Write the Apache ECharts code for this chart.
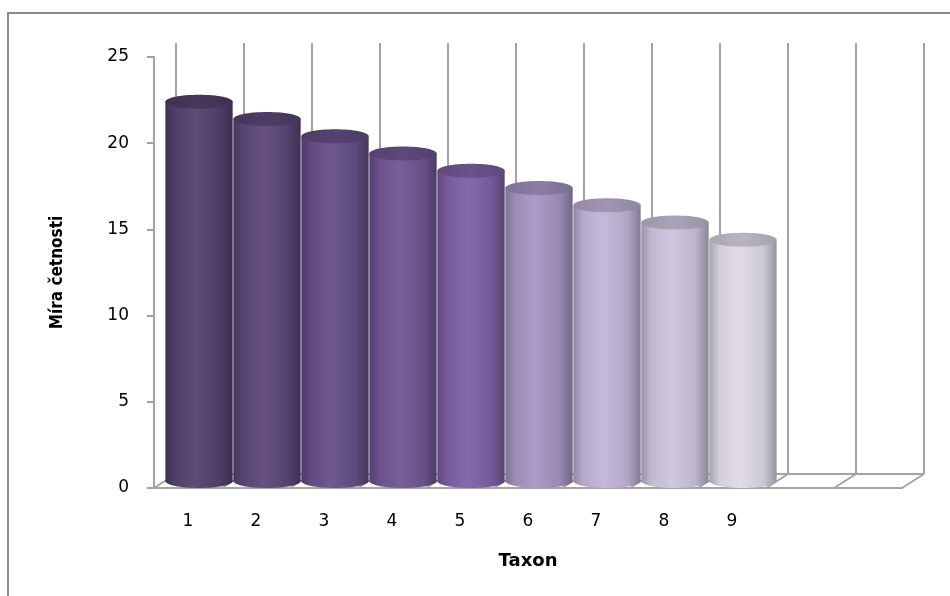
<!DOCTYPE html>
<html>
<head>
<meta charset="utf-8">
<script src="https://cdn.jsdelivr.net/npm/echarts@6/dist/echarts.min.js"></script>
<style>
  html, body { margin: 0; padding: 0; background: #fff; }
  #chart { width: 950px; height: 596px; }
</style>
</head>
<body>
<div id="chart"></div>
<script>
// data
var categories = ['1', '2', '3', '4', '5', '6', '7', '8', '9', '', ''];
var values = [22, 21, 20, 19, 18, 17, 16, 15, 14];
var yTicks = [0, 5, 10, 15, 20, 25];

// colours of the cylinders, left to right
var palette = ['#56426f', '#5e4879', '#675088', '#715795', '#7e62a6',
  '#a696c4', '#c1b5d8', '#cdc5de', '#dfd9e9'];

var DX = 22, DY = -14; // 3d depth offset
var RY = 7;            // ellipse radius of the cylinder caps
var lineCol = '#a3a3a3';

function shade(hex, f) {
  var n = parseInt(hex.slice(1), 16);
  var r = n >> 16, g = (n >> 8) & 255, b = n & 255;
  var t = f < 0 ? 0 : 255, p = Math.abs(f);
  r = Math.round(r + (t - r) * p);
  g = Math.round(g + (t - g) * p);
  b = Math.round(b + (t - b) * p);
  return 'rgb(' + r + ',' + g + ',' + b + ')';
}

var myChart = echarts.init(document.getElementById('chart'));

// back wall + floor lines
function renderWall(params, api) {
  var i = api.value(0);
  var c = api.coord([i, 0]);
  var top = api.coord([i, yTicks[yTicks.length - 1]]);
  var bw = api.size([1, 0])[0];
  var xl = c[0] - bw / 2, xr = c[0] + bw / 2;
  var st = { stroke: lineCol, lineWidth: 2 };
  var kids = [
    { type: 'line', shape: { x1: xl + DX, y1: c[1] + DY, x2: xl + DX, y2: top[1] + DY }, style: st },
    { type: 'line', shape: { x1: xl, y1: c[1], x2: xl + DX, y2: c[1] + DY }, style: st },
    { type: 'line', shape: { x1: xl + DX, y1: c[1] + DY, x2: xr + DX, y2: c[1] + DY }, style: st }
  ];
  if (i === categories.length - 1) {
    kids.push({ type: 'line', shape: { x1: xr + DX, y1: c[1] + DY, x2: xr + DX, y2: top[1] + DY }, style: st });
    kids.push({ type: 'line', shape: { x1: xr, y1: c[1], x2: xr + DX, y2: c[1] + DY }, style: st });
  }
  return { type: 'group', children: kids };
}

function renderCylinder(params, api) {
  var i = api.value(0);
  var v = api.value(1);
  var c = api.coord([i, v]);
  var base = api.coord([i, 0]);
  var bw = api.size([1, 0])[0];
  var w = bw * 0.99;
  var cx = c[0] + DX / 2;
  var yt = c[1] + DY / 2;
  var yb = base[1] + DY / 2;
  var col = palette[i];
  var body = new echarts.graphic.LinearGradient(0, 0, 1, 0, [
    { offset: 0, color: shade(col, -0.25) },
    { offset: 0.15, color: shade(col, -0.06) },
    { offset: 0.45, color: shade(col, 0.05) },
    { offset: 0.8, color: shade(col, -0.08) },
    { offset: 1, color: shade(col, -0.32) }
  ]);
  var cap = new echarts.graphic.LinearGradient(0, 0, 1, 0, [
    { offset: 0, color: shade(col, -0.24) },
    { offset: 0.5, color: shade(col, -0.17) },
    { offset: 1, color: shade(col, -0.26) }
  ]);
  return {
    type: 'group',
    children: [
      { type: 'ellipse', shape: { cx: cx, cy: yb, rx: w / 2, ry: RY }, style: { fill: body } },
      { type: 'rect', shape: { x: cx - w / 2, y: yt, width: w, height: yb - yt }, style: { fill: body } },
      { type: 'ellipse', shape: { cx: cx, cy: yt, rx: w / 2, ry: RY }, style: { fill: cap } }
    ]
  };
}

var option = {
  animation: false,
  graphic: [{
    type: 'rect',
    shape: { x: 8, y: 13, width: 980, height: 620 },
    style: { fill: 'none', stroke: '#8c8c8c', lineWidth: 2 },
    silent: true
  }],
  grid: { left: 154, right: 48, top: 57, bottom: 108 },
  xAxis: {
    type: 'category',
    data: categories,
    name: 'Taxon',
    nameLocation: 'middle',
    nameGap: 64,
    nameTextStyle: { fontFamily: 'DejaVu Sans', fontWeight: 'bold', fontSize: 18, color: '#000' },
    axisLine: { lineStyle: { color: lineCol, width: 2 } },
    axisTick: { show: false },
    axisLabel: { fontFamily: 'DejaVu Sans', fontSize: 17, color: '#000', margin: 25, interval: 0 },
    splitLine: { show: false }
  },
  yAxis: {
    type: 'value',
    min: 0,
    max: 25,
    interval: 5,
    name: 'Míra četnosti',
    nameLocation: 'middle',
    nameGap: 88,
    nameRotate: 90,
    nameTextStyle: {
      fontFamily: "'Liberation Sans Narrow', 'DejaVu Sans Condensed', 'Liberation Sans'",
      fontWeight: 'bold', fontSize: 17, color: '#000'
    },
    axisLine: { show: true, lineStyle: { color: lineCol, width: 2 } },
    axisTick: { show: true, length: 7, lineStyle: { color: lineCol, width: 2 } },
    axisLabel: { fontFamily: 'DejaVu Sans', fontSize: 17, color: '#000', margin: 25 },
    splitLine: { show: false }
  },
  series: [
    {
      type: 'custom',
      renderItem: renderWall,
      data: categories.map(function (c, i) { return [i]; }),
      silent: true,
      z: 1
    },
    {
      type: 'custom',
      renderItem: renderCylinder,
      data: values.map(function (v, i) { return [i, v]; }),
      encode: { x: 0, y: 1 },
      z: 2
    }
  ]
};

myChart.setOption(option);
</script>
</body>
</html>
